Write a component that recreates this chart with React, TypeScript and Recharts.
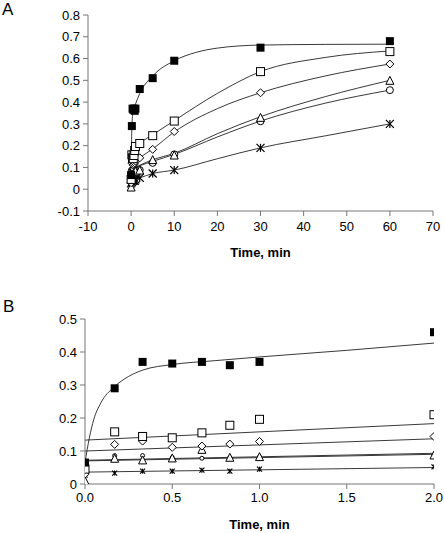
import React from 'react';
import { ComposedChart, Line, Scatter, XAxis, YAxis } from 'recharts';

// sampling times (min); panel B is the first 8, panel A all of them
const times = [0, 0.17, 0.33, 0.5, 0.67, 0.83, 1.0, 2.0, 5, 10, 30, 60];

const filledSquare = [0.065, 0.29, 0.37, 0.365, 0.37, 0.36, 0.37, 0.46, 0.51, 0.59, 0.65, 0.68];
const openSquare = [0.045, 0.158, 0.144, 0.14, 0.155, 0.178, 0.196, 0.21, 0.246, 0.313, 0.54, 0.632];
const diamond = [0.03, 0.12, 0.13, 0.111, 0.115, 0.121, 0.129, 0.144, 0.183, 0.265, 0.443, 0.575];
const triangle = [0.01, 0.078, 0.073, 0.079, 0.105, 0.081, 0.083, 0.088, 0.136, 0.157, 0.33, 0.5];
const circle = [0.07, 0.086, 0.086, 0.08, 0.078, 0.08, 0.082, 0.088, 0.121, 0.16, 0.312, 0.455];
const star = [0.027, 0.033, 0.039, 0.039, 0.042, 0.039, 0.045, 0.052, 0.072, 0.088, 0.19, 0.3];

// fitted curves, panel A
const fitFilledA_t = [0, 0.2, 0.5, 1, 2, 5, 10, 15, 20, 30, 45, 60];
const fitFilledA_y = [0.07, 0.3, 0.36, 0.39, 0.44, 0.52, 0.59, 0.628, 0.648, 0.662, 0.665, 0.666];
const fitOpenA_t = [0.5, 1, 2, 5, 10, 20, 30, 45, 60];
const fitOpenA_y = [0.185, 0.19, 0.21, 0.25, 0.315, 0.44, 0.54, 0.605, 0.635];
const fitA_t = [1, 2, 5, 10, 20, 30, 45, 60];
const fitDiamondA_y = [0.13, 0.145, 0.185, 0.263, 0.37, 0.443, 0.52, 0.575];
const fitTriangleA_y = [0.1, 0.11, 0.135, 0.165, 0.255, 0.333, 0.425, 0.5];
const fitCircleA_y = [0.1, 0.108, 0.128, 0.16, 0.24, 0.313, 0.395, 0.455];
const fitStarA_y = [0.045, 0.052, 0.072, 0.088, 0.14, 0.19, 0.245, 0.3];

// fitted curves, panel B
const fitFilledB_t = [0, 0.025, 0.05, 0.09, 0.167, 0.25, 0.33, 0.5, 0.75, 1, 1.5, 2];
const fitFilledB_y = [0.065, 0.14, 0.195, 0.245, 0.294, 0.326, 0.345, 0.362, 0.374, 0.385, 0.405, 0.427];
const fitB_t = [0, 2];
const fitOpenB_y = [0.133, 0.183];
const fitDiamondB_y = [0.1, 0.137];
const fitTriangleB_y = [0.072, 0.093];
const fitCircleB_y = [0.07, 0.09];
const fitStarB_y = [0.036, 0.05];

const xTicksA = [-10, 0, 10, 20, 30, 40, 50, 60, 70];
const yTicksA = [-0.1, 0, 0.1, 0.2, 0.3, 0.4, 0.5, 0.6, 0.7, 0.8];
const xTicksB = [0, 0.5, 1, 1.5, 2];
const yTicksB = [0, 0.1, 0.2, 0.3, 0.4, 0.5];

const pts = (t: number[], y: number[], n = t.length) =>
  t.slice(0, n).map((v, i) => ({ t: v, y: y[i] }));

const FONT = 'Arial, "Liberation Sans", sans-serif';
const AXIS = '#777';

const makeShape = (kind: string, s: number) => (props: any) => {
  const { cx, cy } = props;
  if (cx == null || cy == null) return <g />;
  const h = s / 2;
  switch (kind) {
    case 'filledSquare':
      return <rect x={cx - h} y={cy - h} width={s} height={s} fill="#000" />;
    case 'openSquare':
      return <rect x={cx - h} y={cy - h} width={s} height={s} fill="#fff" stroke="#000" strokeWidth={1} />;
    case 'diamond':
      return (
        <polygon
          points={`${cx},${cy - h} ${cx + h},${cy} ${cx},${cy + h} ${cx - h},${cy}`}
          fill="#fff"
          stroke="#000"
          strokeWidth={1}
        />
      );
    case 'triangle':
      return (
        <polygon
          points={`${cx},${cy - h} ${cx + h},${cy + h} ${cx - h},${cy + h}`}
          fill="#fff"
          stroke="#000"
          strokeWidth={1}
        />
      );
    case 'circle':
      return <circle cx={cx} cy={cy} r={h} fill="#fff" stroke="#000" strokeWidth={1} />;
    default:
      return (
        <g stroke="#000" strokeWidth={1.2}>
          <line x1={cx - h} y1={cy - h} x2={cx + h} y2={cy + h} />
          <line x1={cx - h} y1={cy + h} x2={cx + h} y2={cy - h} />
          <line x1={cx} y1={cy - h} x2={cx} y2={cy + h} />
        </g>
      );
  }
};

const fmt1 = (v: number) => (v === 0 ? '0' : String(Number(v.toFixed(1))));
const fmtFixed = (v: number) => v.toFixed(1);

const tickStyle = { fill: '#000', fontSize: 13, fontFamily: FONT };
const titleLabel = (offset: number) => ({
  value: 'Time, min',
  position: 'insideBottom' as const,
  offset,
  style: { fill: '#000', fontSize: 13, fontWeight: 'bold', fontFamily: FONT },
});

const fitLine = (key: string, data: any[], type: any = 'monotone') => (
  <Line
    key={key}
    data={data}
    dataKey="y"
    type={type}
    stroke="#222"
    strokeWidth={0.9}
    dot={false}
    activeDot={false}
    isAnimationActive={false}
  />
);

const marks = (n: number, sizes: Record<string, number>) => [
  ['star', star],
  ['circle', circle],
  ['triangle', triangle],
  ['diamond', diamond],
  ['openSquare', openSquare],
  ['filledSquare', filledSquare],
].map(([kind, vals]) => (
  <Scatter
    key={kind as string}
    data={pts(times, vals as number[], n)}
    dataKey="y"
    shape={makeShape(kind as string, sizes[kind as string])}
    isAnimationActive={false}
  />
));

const PanelA = () => (
  <ComposedChart width={444} height={260} margin={{ top: 15, right: 11, left: 0, bottom: 0 }}>
    <XAxis
      dataKey="t"
      type="number"
      domain={[-10, 70]}
      ticks={xTicksA}
      height={49}
      tick={tickStyle}
      tickSize={5}
      tickMargin={6}
      stroke={AXIS}
      label={titleLabel(3)}
      allowDataOverflow
    />
    <XAxis xAxisId="top" orientation="top" type="number" domain={[-10, 70]} height={0} tick={false} tickLine={false} stroke={AXIS} />
    <YAxis
      type="number"
      domain={[-0.1, 0.8]}
      ticks={yTicksA}
      width={88}
      tick={tickStyle}
      tickSize={5}
      tickMargin={3}
      tickFormatter={fmt1}
      stroke={AXIS}
      allowDataOverflow
    />
    <YAxis yAxisId="right" orientation="right" width={0} tick={false} tickLine={false} stroke={AXIS} />
    {fitLine('fa', pts(fitFilledA_t, fitFilledA_y))}
    {fitLine('oa', pts(fitOpenA_t, fitOpenA_y))}
    {fitLine('da', pts(fitA_t, fitDiamondA_y))}
    {fitLine('ta', pts(fitA_t, fitTriangleA_y))}
    {fitLine('ca', pts(fitA_t, fitCircleA_y))}
    {fitLine('sa', pts(fitA_t, fitStarA_y))}
    {marks(times.length, { star: 8, circle: 7, triangle: 8, diamond: 8, openSquare: 8, filledSquare: 8 })}
  </ComposedChart>
);

const PanelB = () => (
  <ComposedChart width={444} height={273} margin={{ top: 59, right: 10, left: 0, bottom: 0 }}>
    <XAxis
      dataKey="t"
      type="number"
      domain={[0, 2]}
      ticks={xTicksB}
      height={49}
      tick={tickStyle}
      tickSize={5}
      tickMargin={4}
      tickFormatter={fmtFixed}
      stroke={AXIS}
      label={titleLabel(4)}
      allowDataOverflow
    />
    <XAxis xAxisId="top" orientation="top" type="number" domain={[0, 2]} height={0} tick={false} tickLine={false} stroke={AXIS} />
    <YAxis
      type="number"
      domain={[0, 0.5]}
      ticks={yTicksB}
      width={85}
      tick={tickStyle}
      tickSize={5}
      tickMargin={3}
      tickFormatter={fmt1}
      stroke={AXIS}
      allowDataOverflow
    />
    <YAxis yAxisId="right" orientation="right" width={0} tick={false} tickLine={false} stroke={AXIS} />
    {fitLine('fb', pts(fitFilledB_t, fitFilledB_y))}
    {fitLine('ob', pts(fitB_t, fitOpenB_y), 'linear')}
    {fitLine('db', pts(fitB_t, fitDiamondB_y), 'linear')}
    {fitLine('tb', pts(fitB_t, fitTriangleB_y), 'linear')}
    {fitLine('cb', pts(fitB_t, fitCircleB_y), 'linear')}
    {fitLine('sb', pts(fitB_t, fitStarB_y), 'linear')}
    {marks(8, { star: 5, circle: 4, triangle: 8, diamond: 8, openSquare: 8, filledSquare: 8 })}
  </ComposedChart>
);

export default function App() {
  return (
    <div style={{ position: 'absolute', left: 0, top: 0, width: 444, height: 533, background: '#fff', fontFamily: FONT }}>
      <div style={{ position: 'absolute', left: 2, top: 0, fontSize: 17, lineHeight: '19px' }}>A</div>
      <div style={{ position: 'absolute', left: 3, top: 297, fontSize: 17, lineHeight: '19px' }}>B</div>
      <div style={{ position: 'absolute', left: 0, top: 0 }}>
        <PanelA />
      </div>
      <div style={{ position: 'absolute', left: 0, top: 260 }}>
        <PanelB />
      </div>
    </div>
  );
}
